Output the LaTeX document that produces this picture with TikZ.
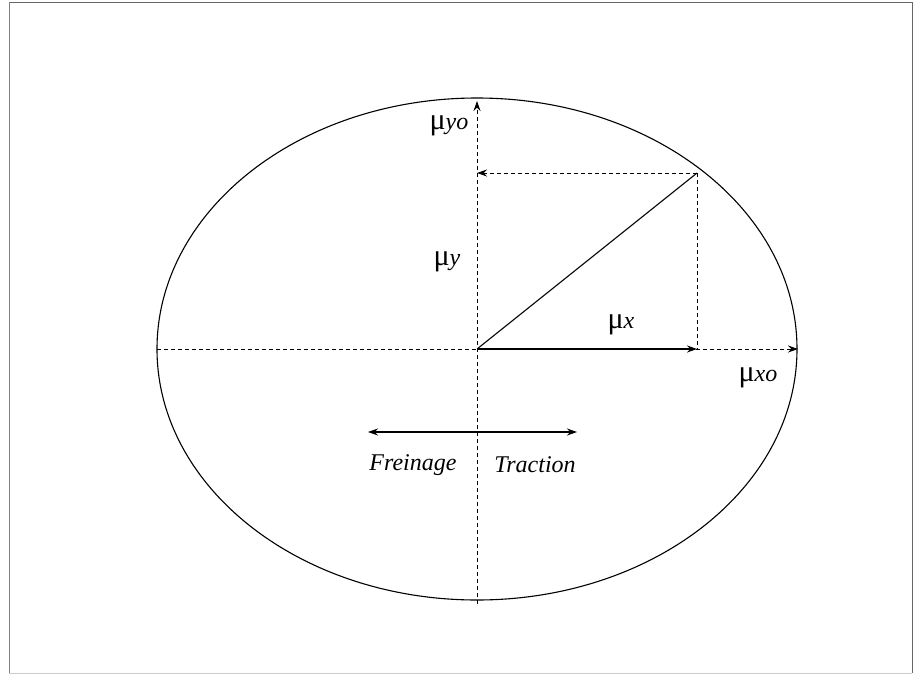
\documentclass[tikz,border=0pt]{standalone}
\usepackage{fontspec}
\setmainfont{Liberation Serif}
\usetikzlibrary{arrows.meta}
\newcommand\mubig{{\fontsize{30}{32}\selectfont\upshape μ}}
\begin{document}
\begin{tikzpicture}[x=1pt,y=-1pt,
  axis/.style={dash pattern=on 4pt off 3pt,line width=1pt,-{Stealth[length=10pt,width=7pt]}},
  guide/.style={dash pattern=on 4pt off 3pt,line width=1pt},
  solidarrow/.style={line width=1.1pt,-{Stealth[length=10pt,width=7pt]}},
  lab/.style={font=\fontsize{24}{28}\selectfont\itshape, inner sep=0pt}]
\useasboundingbox (0,0) rectangle (914,675);
\draw[line width=0.8pt, black!60] (9,2) -- (912,2) -- (912,673);
\draw[line width=0.8pt, black!50] (9,2) -- (9,673);
\draw[line width=0.5pt, gray!40] (9,673) -- (912,673);
% ellipse
\draw[line width=1.1pt] (477,349) ellipse [x radius=320, y radius=251];
\coordinate (O) at (477,349);
\coordinate (L) at (157,349);
\coordinate (R) at (798,349);
\coordinate (T) at (477,101);
\coordinate (B) at (477,604);
\coordinate (P) at (697,173);
\coordinate (Px) at (697,349);
\coordinate (Py) at (477,173);
\draw[axis] (B) -- (T);
\draw[axis] (L) -- (R);
\draw[solidarrow] (O) -- (Px);
\draw[guide] (P) -- (Px);
\draw[axis] (P) -- (Py);
\draw[line width=1.1pt] (O) -- (P);
% traction arrow
\coordinate (fl) at (368,432);
\coordinate (fr) at (577,432);
\draw[line width=1.1pt,{Stealth[length=10pt,width=7pt]}-{Stealth[length=10pt,width=7pt]}] (fl) -- (fr);
\node[lab] (fre) at (413,465) {Freinage};
\node[lab] (tra) at (535,465) {Traction};
% labels
\node[lab] (myo) at (449,126) {\mubig yo};
\node[lab] (my) at (447,262) {\mubig y};
\node[lab] (mx) at (621,325) {\mubig x};
\node[lab] (mxo) at (758,378) {\mubig xo};
\end{tikzpicture}
\end{document}
